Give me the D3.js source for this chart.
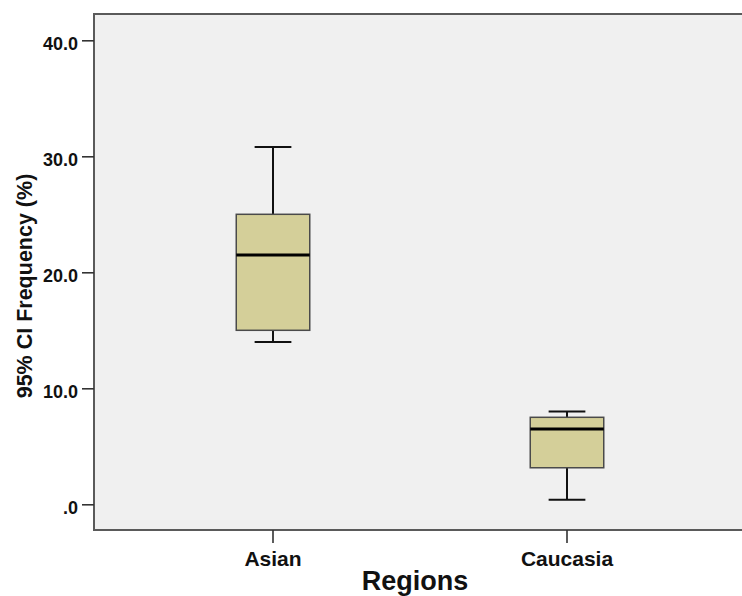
<!DOCTYPE html>
<html>
<head>
<meta charset="utf-8">
<script src="https://cdn.jsdelivr.net/npm/d3@7"></script>
<style>
  html, body { margin: 0; padding: 0; background: #ffffff; }
  svg { display: block; }
  text { font-family: "Liberation Sans", Arial, sans-serif; font-weight: bold; fill: #111; }
</style>
</head>
<body>
<svg id="chart" width="742" height="596"></svg>
<script>
// Box plot summaries per region: whisker ends, quartiles and median (%)
const categories = ["Asian", "Caucasia"];
const mins    = [14.0, 0.4];
const q1s     = [15.0, 3.15];
const medians = [21.5, 6.5];
const q3s     = [25.0, 7.5];
const maxs    = [30.8, 8.0];
const yTicks  = [0, 10, 20, 30, 40];

const boxes = categories.map((c, i) => ({
  cat: c, min: mins[i], q1: q1s[i], med: medians[i], q3: q3s[i], max: maxs[i]
}));

const svg = d3.select("#chart");

// plot frame (extends past the right edge of the page)
const frame = { left: 94, top: 14, bottom: 530, right: 760 };

const x = d3.scaleBand().domain(categories).range([126, 714]);
const y = d3.scaleLinear().domain([0, 40]).range([504.3, 40.3]);

svg.append("rect")
  .attr("x", frame.left).attr("y", frame.top)
  .attr("width", frame.right - frame.left).attr("height", frame.bottom - frame.top)
  .attr("fill", "#f0f0f0")
  .attr("stroke", "#5a5a5a").attr("stroke-width", 2);

// Y axis
const yAxis = d3.axisLeft(y)
  .tickValues(yTicks)
  .tickSize(12)
  .tickPadding(4)
  .tickFormat(d => d === 0 ? ".0" : d.toFixed(1));

const gy = svg.append("g").attr("transform", `translate(${frame.left},0)`).call(yAxis);
gy.select(".domain").remove();
gy.selectAll(".tick line").attr("stroke", "#333").attr("stroke-width", 1.6);
gy.selectAll(".tick text")
  .attr("font-size", 18)
  .attr("dy", "0.5em")
  .attr("fill", "#111");

// X axis
const xAxis = d3.axisBottom(x).tickSize(13).tickPadding(8);
const gx = svg.append("g").attr("transform", `translate(0,${frame.bottom})`).call(xAxis);
gx.select(".domain").remove();
gx.selectAll(".tick line").attr("stroke", "#333").attr("stroke-width", 1.6);
gx.selectAll(".tick text")
  .attr("font-size", 21)
  .attr("dy", "0.71em")
  .attr("fill", "#111");

// boxes
const bw = x.bandwidth() * 0.25;
const capW = bw / 2;
const g = svg.append("g")
  .selectAll("g.box")
  .data(boxes)
  .join("g")
  .attr("class", "box")
  .attr("transform", d => `translate(${x(d.cat) + x.bandwidth() / 2},0)`);

// whisker stems
g.append("line")
  .attr("x1", 0).attr("x2", 0)
  .attr("y1", d => y(d.max)).attr("y2", d => y(d.q3))
  .attr("stroke", "#111").attr("stroke-width", 2);
g.append("line")
  .attr("x1", 0).attr("x2", 0)
  .attr("y1", d => y(d.q1)).attr("y2", d => y(d.min))
  .attr("stroke", "#111").attr("stroke-width", 2);

// whisker caps
g.append("line")
  .attr("x1", -capW / 2).attr("x2", capW / 2)
  .attr("y1", d => y(d.max)).attr("y2", d => y(d.max))
  .attr("stroke", "#111").attr("stroke-width", 2);
g.append("line")
  .attr("x1", -capW / 2).attr("x2", capW / 2)
  .attr("y1", d => y(d.min)).attr("y2", d => y(d.min))
  .attr("stroke", "#111").attr("stroke-width", 2);

// interquartile box
g.append("rect")
  .attr("x", -bw / 2).attr("width", bw)
  .attr("y", d => y(d.q3))
  .attr("height", d => y(d.q1) - y(d.q3))
  .attr("fill", "#d4cf99")
  .attr("stroke", "#4a4a4a").attr("stroke-width", 1.5);

// median
g.append("line")
  .attr("x1", -bw / 2).attr("x2", bw / 2)
  .attr("y1", d => y(d.med)).attr("y2", d => y(d.med))
  .attr("stroke", "#000").attr("stroke-width", 3);

// axis titles
svg.append("text")
  .attr("transform", "translate(31.5,286) rotate(-90)")
  .attr("text-anchor", "middle")
  .attr("font-size", 21.5)
  .text("95% CI Frequency (%)");

svg.append("text")
  .attr("x", 415).attr("y", 589.5)
  .attr("text-anchor", "middle")
  .attr("font-size", 27)
  .text("Regions");
</script>
</body>
</html>
